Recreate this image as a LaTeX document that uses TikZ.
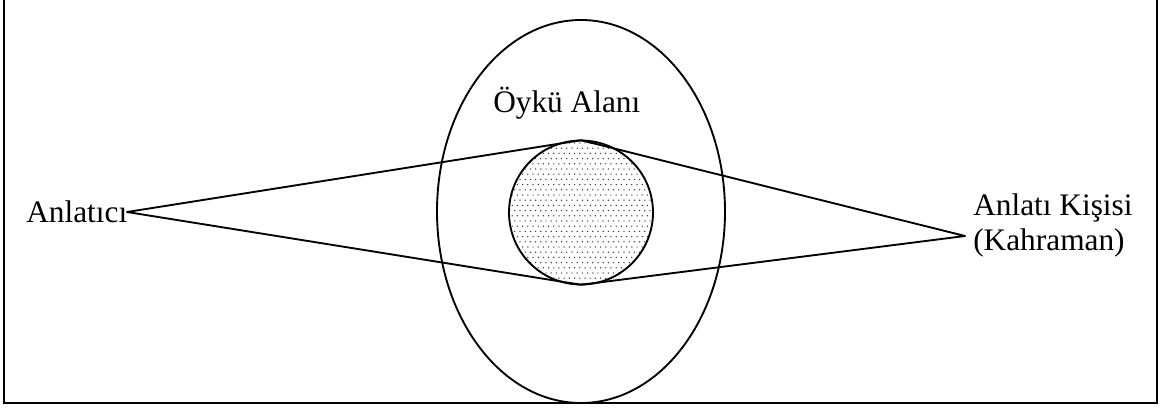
\documentclass[tikz,border=0pt]{standalone}
\usepackage{fontspec}
\setmainfont{Liberation Serif}
\usetikzlibrary{shapes.geometric}
\begin{document}
\begin{tikzpicture}[x=0.75pt,y=-0.75pt,
  lw/.style={line width=1.4pt},
  lbl/.style={inner sep=0pt,font=\fontsize{23.5}{26.5}\selectfont}]
\useasboundingbox (0,0) rectangle (1164,410);
% frame
\draw[lw] (4,-5) -- (4,403) -- (1157,403) -- (1157,-5);
% story area ellipse
\node[lw,draw,ellipse,inner sep=0pt,minimum width=216pt,minimum height=287.25pt] (alan) at (581,211.5) {};
% shaded circle
\node[circle,inner sep=0pt,minimum size=108pt] (oyku) at (581,212.5) {};
\begin{scope}
  \clip (oyku.center) circle (54pt);
  \foreach \j in {0,...,28} {
    \foreach \i in {0,...,29} {
      \fill[black!80] ({507+\i*5.2+mod(\j,2)*2.6},{143+\j*5.2}) circle (0.55pt);
    }
  }
\end{scope}
\draw[lw] (oyku.center) circle (54pt);
% apices
\coordinate (L) at (127,212);
\coordinate (R) at (965,236);
\draw[lw,line join=round] (oyku.north) -- (L) -- (oyku.south);
\draw[lw,line join=round] (oyku.north) -- (R) -- (oyku.south);
% labels
\node[lbl,anchor=base west] (anlatici) at (26,222) {Anlatıcı};
\node[lbl,anchor=base west] (alanlbl) at (493,113) {Öykü Alanı};
\node[lbl,anchor=base west] (kisi1) at (973,215) {Anlatı Kişisi};
\node[lbl,anchor=base west] (kisi2) at (973,250) {(Kahraman)};
\end{tikzpicture}
\end{document}
